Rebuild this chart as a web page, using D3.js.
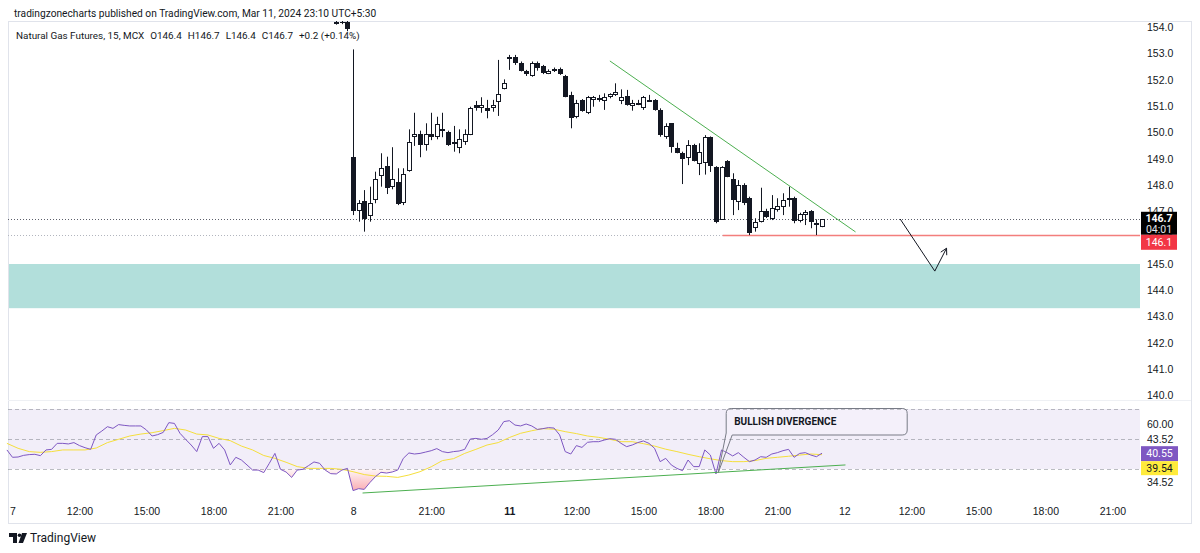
<!DOCTYPE html>
<html>
<head>
<meta charset="utf-8">
<script src="https://cdn.jsdelivr.net/npm/d3@7"></script>
<style>
  body { margin: 0; background: #fff; }
  svg { display: block; font-family: Roboto, "Noto Sans", sans-serif; }
</style>
</head>
<body>
<div id="chart"></div>
<script>
let width = 1200,
    height = 553,
    box = ({ left: 8, right: 1191, top: 21, bottom: 523 }),
    plotRight = 1140,
    priceBottom = 400,
    rsiTop = 401,
    rsiBottom = 500,
    axisFont = 10.5;

// ---- data ----
const headerText = "tradingzonecharts published on TradingView.com, Mar 11, 2024 23:10 UTC+5:30";
const legendParts = ["Natural Gas Futures, 15, MCX", "O146.4", "H146.7", "L146.4", "C146.7", "+0.2 (+0.14%)"];

// 15 min bars, index 0 = first bar of the 7th
const timeTicks = [0, 12, 24, 36, 48, 61, 75, 89, 101, 113, 125, 137, 149, 161, 173, 185, 197];
const timeLabels = ["7", "12:00", "15:00", "18:00", "21:00", "8", "21:00", "11", "12:00", "15:00", "18:00", "21:00", "12", "12:00", "15:00", "18:00", "21:00"];
const boldLabels = ["11"];

const priceTicks = [140, 141, 142, 143, 144, 145, 146, 147, 148, 149, 150, 151, 152, 153, 154];

const barStart = 58;
const opens = [
  154.18, 154.22, 154.20, 149.06, 146.99, 147.41, 146.80, 147.41, 148.32, 148.73,
  147.91, 148.13, 147.31, 148.51, 149.82, 149.93, 149.51, 149.93, 149.82, 150.10,
  150.03, 149.60, 149.40, 149.61, 149.93, 151.03, 150.92, 150.94, 150.92, 151.13,
  151.64, 152.86, 152.86, 152.66, 152.35, 152.15, 152.66, 152.53, 152.25, 152.34,
  152.43, 152.15, 151.43, 150.60, 151.24, 150.73, 151.24, 151.29, 151.20, 151.34,
  151.45, 151.20, 151.39, 151.04, 151.12, 150.92, 151.22, 151.24, 150.86, 149.82,
  150.35, 149.42, 149.23, 149.02, 149.53, 148.83, 148.83, 149.82, 148.70, 146.70,
  148.93, 148.22, 147.37, 148.00, 147.50, 146.39, 146.61, 147.03, 146.70, 147.05,
  147.18, 147.41, 147.50, 146.61, 146.86, 147.03, 146.52, 146.40
];
const highs = [
  154.30, 154.30, 154.30, 153.16, 147.43, 147.81, 147.94, 148.51, 149.21, 149.08,
  149.44, 148.64, 148.64, 150.12, 150.75, 150.07, 150.35, 150.75, 150.60, 150.75,
  150.07, 150.25, 150.12, 150.12, 150.98, 151.20, 151.34, 151.24, 151.24, 152.76,
  152.02, 152.95, 152.95, 152.70, 152.38, 152.70, 152.70, 152.57, 152.40, 152.47,
  152.47, 152.19, 151.55, 151.24, 151.27, 151.39, 151.39, 151.43, 151.49, 151.49,
  151.87, 151.64, 151.62, 151.24, 151.24, 151.39, 151.43, 151.27, 150.92, 150.35,
  150.35, 149.61, 149.27, 149.71, 149.57, 149.59, 149.90, 149.85, 148.72, 148.72,
  148.95, 148.45, 148.19, 148.07, 147.56, 146.74, 147.90, 147.10, 147.62, 147.50,
  147.69, 147.94, 147.56, 146.95, 147.05, 147.05, 146.70, 146.70
];
const lows = [
  154.10, 154.12, 153.85, 146.86, 146.61, 146.23, 146.61, 147.31, 147.94, 147.66,
  147.84, 147.24, 147.24, 148.51, 149.49, 149.06, 149.31, 149.71, 149.74, 149.82,
  149.49, 149.27, 149.21, 149.53, 149.90, 150.83, 150.75, 150.54, 150.79, 150.63,
  151.64, 152.38, 152.57, 152.32, 152.15, 152.12, 152.35, 152.22, 152.22, 152.30,
  152.19, 151.34, 150.16, 150.54, 150.79, 150.70, 150.98, 151.17, 150.86, 151.30,
  151.39, 151.08, 151.02, 150.83, 151.04, 150.86, 151.17, 150.83, 149.84, 149.76,
  149.23, 149.21, 148.04, 148.76, 148.90, 148.38, 148.40, 148.50, 146.55, 146.68,
  148.30, 146.86, 147.05, 147.24, 146.10, 146.23, 146.58, 146.75, 146.67, 146.99,
  146.86, 147.18, 146.55, 146.58, 146.48, 146.36, 146.10, 146.40
];
const closes = [
  154.22, 154.18, 153.92, 146.99, 147.31, 146.71, 147.31, 148.22, 148.64, 147.91,
  148.22, 147.31, 148.42, 149.63, 149.93, 149.51, 149.93, 149.82, 150.32, 150.12,
  149.52, 149.62, 149.74, 149.93, 150.94, 150.92, 151.03, 150.83, 151.03, 151.45,
  151.87, 152.88, 152.63, 152.35, 152.22, 152.66, 152.48, 152.25, 152.35, 152.43,
  152.25, 151.34, 150.54, 151.13, 150.83, 151.34, 151.34, 151.31, 151.34, 151.45,
  151.55, 151.34, 151.05, 151.14, 151.14, 151.34, 151.24, 150.86, 149.90, 150.25,
  149.42, 149.23, 149.02, 149.53, 148.93, 149.27, 149.82, 148.70, 146.61, 148.70,
  148.32, 147.43, 148.00, 147.30, 146.17, 146.61, 147.03, 146.80, 147.12, 147.21,
  147.43, 147.50, 146.61, 146.89, 146.99, 146.61, 146.55, 146.70
];

const rsiStart = -1;
const rsiValues = [
  42.7,
  37.8, 38.0, 39.1, 39.6, 39.8, 38.9, 42.7, 43.1, 47.1, 47.1,   // 0-9
  46.7, 47.6, 45.6, 44.2, 43.1, 52.7, 55.3, 58.2, 57.1, 59.6,   // 10-19
  59.1, 58.7, 58.7, 58.7, 56.0, 52.0, 52.9, 54.4, 60.9, 60.4,   // 20-29
  53.8, 49.8, 46.0, 41.6, 51.6, 51.6, 43.8, 47.1, 42.7, 32.7,   // 30-39
  37.8, 36.0, 32.7, 29.3, 29.3, 27.6, 33.8, 40.4, 29.8, 28.0,   // 40-49
  24.4, 29.3, 29.8, 32.2, 34.7, 33.8, 29.3, 26.9, 26.7, 29.3,   // 50-59
  30.4, 15.6, 16.9, 16.4, 20.9, 24.9, 27.8, 27.3, 28.0, 29.3,   // 60-69
  37.1, 40.7, 40.0, 40.4, 41.3, 42.2, 43.6, 41.6, 40.9, 41.6,   // 70-79
  42.0, 43.1, 50.0, 50.4, 49.8, 50.4, 52.9, 56.0, 61.6, 62.2,   // 80-89
  59.3, 58.7, 60.0, 58.7, 56.4, 56.9, 57.6, 57.3, 52.7, 41.6,   // 90-99
  40.0, 45.6, 44.4, 47.8, 48.2, 48.2, 49.3, 50.2, 49.8, 47.1,   // 100-109
  44.9, 46.0, 47.6, 48.7, 47.1, 43.8, 34.9, 37.1, 32.7, 30.4,   // 110-119
  28.9, 36.0, 31.6, 31.6, 42.7, 39.3, 26.7, 42.7, 40.9, 38.7,   // 120-129
  40.9, 37.8, 34.9, 36.0, 38.2, 37.8, 40.0, 40.9, 42.2, 43.1,   // 130-139
  37.8, 40.4, 40.9, 39.3, 38.2, 40.55                          // 140-145
];

// RSI based MA, read every second bar from -1
const maValues = [
  47.1, 43.8, 41.6, 41.1, 41.6, 42.7, 42.7, 42.7, 44.0, 47.6,
  49.8, 52.0, 53.3, 54.2, 55.6, 57.1, 56.0, 53.3, 52.7, 50.4,
  48.9, 45.3, 42.7, 39.0, 37.1, 34.5, 31.6, 30.4, 30.4, 30.4,
  29.8, 28.2, 26.3, 25.3, 25.1, 24.4, 26.0, 28.2, 31.5, 35.6,
  36.9, 40.4, 43.1, 46.0, 47.6, 51.0, 53.8, 55.5, 56.9, 56.5,
  54.9, 53.6, 52.0, 51.1, 49.8, 48.2, 48.2, 46.9, 45.3, 43.2,
  41.6, 39.8, 38.2, 36.8, 35.6, 34.9, 34.9, 35.6, 37.1, 37.8,
  38.5, 39.3, 40.0, 39.54
];

const rsiLevels = [70, 50, 30];
const rsiTickAt = [60, 50, 21.3];
const rsiTickLabels = ["60.00", "43.52", "34.52"];

// drawings
const supportZone = [143.32, 145.0];
const trendLine = [[107, 152.72], [151, 146.22]];
const rsiDivLine = [[62.7, 14], [149.2, 32.7]];
const arrowPts = [[159, 146.71], [165.2, 144.73], [167.3, 145.6]];
const redLevel = { from: 127.2, price: 146.1 };
const lastPrice = 146.7;
const countdown = "04:01";
const callout = { i: 126.4, v: 27.5, text: "BULLISH DIVERGENCE" };

// ---- scales ----
const x = d3.scaleLinear()
  .domain([0, 197])
  .range([12.5, 12.5 + 197 * 5.583]);

const y = d3.scaleLinear()
  .domain([140, 154])
  .range([395.5, 27.3]);

const yR = d3.scaleLinear()
  .domain([30, 70])
  .range([469, 409]);

const svg = d3.select("#chart")
  .append("svg")
  .attr("width", width)
  .attr("height", height);

const defs = svg.append("defs");
defs.append("clipPath").attr("id", "price-clip")
  .append("rect")
  .attr("x", box.left).attr("y", box.top)
  .attr("width", plotRight - box.left).attr("height", priceBottom - box.top);
defs.append("clipPath").attr("id", "axis-clip")
  .append("rect")
  .attr("x", plotRight).attr("y", box.top)
  .attr("width", box.right - plotRight).attr("height", priceBottom - box.top);
defs.append("clipPath").attr("id", "oversold-clip")
  .append("rect")
  .attr("x", box.left).attr("y", yR(30))
  .attr("width", plotRight - box.left).attr("height", rsiBottom - yR(30));

let grad = defs.append("linearGradient")
  .attr("id", "oversold-grad")
  .attr("gradientUnits", "userSpaceOnUse")
  .attr("x1", 0).attr("x2", 0)
  .attr("y1", yR(30)).attr("y2", yR(10));
grad.append("stop").attr("offset", 0).attr("stop-color", "#f23645").attr("stop-opacity", 0.04);
grad.append("stop").attr("offset", 1).attr("stop-color", "#f23645").attr("stop-opacity", 0.55);

// header above the chart box
svg.append("text")
  .attr("x", 14).attr("y", 17)
  .attr("font-size", 10.2)
  .attr("fill", "#131722")
  .text(headerText);

svg.append("rect")
  .attr("x", box.left + 0.5).attr("y", box.top + 0.5)
  .attr("width", box.right - box.left).attr("height", box.bottom - box.top)
  .attr("fill", "none")
  .attr("stroke", "#e0e3eb");

// ---- price pane ----
const price = svg.append("g").attr("clip-path", "url(#price-clip)");

price.append("rect")
  .attr("x", box.left + 1)
  .attr("y", y(supportZone[1]))
  .attr("width", plotRight - box.left - 1)
  .attr("height", y(supportZone[0]) - y(supportZone[1]))
  .attr("fill", "#b2dfdb");

let redY = Math.round(y(redLevel.price)) + 0.5;
price.append("line")
  .attr("x1", box.left).attr("x2", x(redLevel.from))
  .attr("y1", redY).attr("y2", redY)
  .attr("stroke", "#b2b5be")
  .attr("stroke-dasharray", "1,2");

// horizontal ray at 146.1
price.append("line")
  .attr("x1", x(redLevel.from)).attr("x2", plotRight)
  .attr("y1", redY).attr("y2", redY)
  .attr("stroke", "#ef5350")
  .attr("stroke-width", 1.4)
  .attr("stroke-opacity", 0.75);

price.append("line")
  .attr("x1", box.left).attr("x2", plotRight)
  .attr("y1", Math.round(y(lastPrice)) + 0.5).attr("y2", Math.round(y(lastPrice)) + 0.5)
  .attr("stroke", "#5d606b")
  .attr("stroke-dasharray", "1,2");

let candles = opens.map((o, k) => ({ i: barStart + k, o: o, h: highs[k], l: lows[k], c: closes[k] }));

let cg = price.selectAll(".candle")
  .data(candles)
  .join("g")
  .attr("class", "candle");

cg.append("line")
  .attr("x1", d => Math.round(x(d.i)) + 0.5)
  .attr("x2", d => Math.round(x(d.i)) + 0.5)
  .attr("y1", d => y(d.h))
  .attr("y2", d => y(d.l))
  .attr("stroke", "#131722");

cg.append("rect")
  .attr("x", d => d.c >= d.o ? Math.round(x(d.i)) - 1.5 : Math.round(x(d.i)) - 2)
  .attr("width", d => d.c >= d.o ? 4 : 5)
  .attr("y", d => {
    let top = y(Math.max(d.o, d.c));
    return d.c >= d.o ? Math.round(top) + 0.5 : Math.round(top);
  })
  .attr("height", d => {
    let hgt = Math.max(1, Math.round(y(Math.min(d.o, d.c)) - y(Math.max(d.o, d.c))));
    return d.c >= d.o ? Math.max(1, hgt - 1) : hgt;
  })
  .attr("fill", d => d.c >= d.o ? "#ffffff" : "#131722")
  .attr("stroke", d => d.c >= d.o ? "#131722" : "none");

price.append("line")
  .attr("x1", x(trendLine[0][0])).attr("y1", y(trendLine[0][1]))
  .attr("x2", x(trendLine[1][0])).attr("y2", y(trendLine[1][1]))
  .attr("stroke", "#4caf50");

// the expected move: down into the zone, then up
let arrowLine = d3.line().x(d => x(d[0])).y(d => y(d[1]));
price.append("path")
  .attr("d", arrowLine(arrowPts))
  .attr("fill", "none")
  .attr("stroke", "#131722");

let tip = arrowPts[2], prev = arrowPts[1];
let ang = Math.atan2(y(tip[1]) - y(prev[1]), x(tip[0]) - x(prev[0]));
let tx = x(tip[0]), ty = y(tip[1]);
price.append("path")
  .attr("d", `M${tx - 7 * Math.cos(ang - 0.5)},${ty - 7 * Math.sin(ang - 0.5)}L${tx},${ty}L${tx - 7 * Math.cos(ang + 0.5)},${ty - 7 * Math.sin(ang + 0.5)}`)
  .attr("fill", "none")
  .attr("stroke", "#131722");

// legend sits on top of the candles, items with a small gap
let legend = svg.append("text")
  .attr("x", 16).attr("y", 39)
  .attr("font-size", 9.9)
  .attr("fill", "#131722");
legendParts.forEach((t, k) => {
  legend.append("tspan")
    .attr("dx", k === 0 ? 0 : 6)
    .text(t);
});

// price axis
svg.append("g")
  .attr("clip-path", "url(#axis-clip)")
  .append("g")
  .attr("transform", `translate(${plotRight},0)`)
  .call(d3.axisRight(y).tickValues(priceTicks).tickSize(0).tickPadding(7).tickFormat(d3.format(".1f")))
  .call(g => g.select(".domain").remove())
  .call(g => g.selectAll("text").attr("fill", "#131722").attr("font-size", axisFont).attr("font-family", null));

let badge = svg.append("g");
badge.append("rect")
  .attr("x", plotRight + 1).attr("y", y(lastPrice) - 7.5)
  .attr("width", 36).attr("height", 23)
  .attr("fill", "#000");
badge.append("text")
  .attr("x", plotRight + 19).attr("y", y(lastPrice) + 3)
  .attr("text-anchor", "middle").attr("font-size", axisFont).attr("font-weight", 700)
  .attr("fill", "#fff")
  .text(d3.format(".1f")(lastPrice));
badge.append("text")
  .attr("x", plotRight + 19).attr("y", y(lastPrice) + 13.5)
  .attr("text-anchor", "middle").attr("font-size", axisFont)
  .attr("fill", "#e0e3eb")
  .text(countdown);
badge.append("rect")
  .attr("x", plotRight + 1).attr("y", y(lastPrice) + 15.5)
  .attr("width", 36).attr("height", 15)
  .attr("fill", "#f23645");
badge.append("text")
  .attr("x", plotRight + 19).attr("y", y(lastPrice) + 26.5)
  .attr("text-anchor", "middle").attr("font-size", axisFont)
  .attr("fill", "#fff")
  .text(d3.format(".1f")(redLevel.price));

svg.append("line")
  .attr("x1", box.left).attr("x2", box.right)
  .attr("y1", priceBottom + 0.5).attr("y2", priceBottom + 0.5)
  .attr("stroke", "#eef0f4");

// ---- RSI pane ----
const rsi = svg.append("g");

rsi.append("rect")
  .attr("x", box.left + 1).attr("y", yR(70))
  .attr("width", plotRight - box.left - 1).attr("height", yR(30) - yR(70))
  .attr("fill", "#7e57c2").attr("fill-opacity", 0.1);

rsi.selectAll(".level")
  .data(rsiLevels)
  .join("line")
  .attr("class", "level")
  .attr("x1", box.left).attr("x2", plotRight)
  .attr("y1", d => Math.round(yR(d)) + 0.5).attr("y2", d => Math.round(yR(d)) + 0.5)
  .attr("stroke", "#787b86").attr("stroke-opacity", 0.5)
  .attr("stroke-dasharray", "4,3");

let rsiData = rsiValues.map((v, k) => ({ i: rsiStart + k, v: v }));
let maData = maValues.map((v, k) => ({ i: -1 + 2 * k, v: v }));

rsi.append("path")
  .datum(rsiData)
  .attr("clip-path", "url(#oversold-clip)")
  .attr("fill", "url(#oversold-grad)")
  .attr("d", d3.area().x(d => x(d.i)).y0(yR(30)).y1(d => yR(d.v)));

rsi.append("path")
  .datum(maData)
  .attr("fill", "none")
  .attr("stroke", "#f5df3c")
  .attr("d", d3.line().x(d => x(d.i)).y(d => yR(d.v)));

rsi.append("path")
  .datum(rsiData)
  .attr("fill", "none")
  .attr("stroke", "#7e57c2")
  .attr("d", d3.line().x(d => x(d.i)).y(d => yR(d.v)));

rsi.append("line")
  .attr("x1", x(rsiDivLine[0][0])).attr("y1", yR(rsiDivLine[0][1]))
  .attr("x2", x(rsiDivLine[1][0])).attr("y2", yR(rsiDivLine[1][1]))
  .attr("stroke", "#4caf50");

// callout box with a tail pointing at the RSI low
let cx0 = x(callout.i), cy0 = yR(callout.v);
let bx1 = cx0 + 8, bx2 = cx0 + 189, by1 = yR(70) - 0.5, by2 = 435, r = 5;
rsi.append("path")
  .attr("d", `M${bx1 + r},${by1}H${bx2 - r}Q${bx2},${by1} ${bx2},${by1 + r}V${by2 - r}Q${bx2},${by2} ${bx2 - r},${by2}` +
    `H${bx1 + 6}L${cx0},${cy0}L${bx1},${by2 - 2}V${by1 + r}Q${bx1},${by1} ${bx1 + r},${by1}Z`)
  .attr("fill", "#ffffff").attr("fill-opacity", 0.15)
  .attr("stroke", "#787b86");
rsi.append("text")
  .attr("x", bx1 + 8).attr("y", 425)
  .attr("font-size", 10).attr("font-weight", 700)
  .attr("fill", "#131722")
  .text(callout.text);

svg.append("g")
  .attr("transform", `translate(${plotRight},0)`)
  .call(d3.axisRight(yR).tickValues(rsiTickAt).tickSize(0).tickPadding(7).tickFormat((d, k) => rsiTickLabels[k]))
  .call(g => g.select(".domain").remove())
  .call(g => g.selectAll("text").attr("fill", "#131722").attr("font-size", axisFont).attr("font-family", null));

let lastRsi = rsiValues[rsiValues.length - 1],
    lastMa = maValues[maValues.length - 1];
svg.append("rect")
  .attr("x", plotRight + 1).attr("y", yR(lastRsi) - 7)
  .attr("width", 37).attr("height", 15)
  .attr("fill", "#7e57c2");
svg.append("text")
  .attr("x", plotRight + 19.5).attr("y", yR(lastRsi) + 4)
  .attr("text-anchor", "middle").attr("font-size", axisFont)
  .attr("fill", "#fff")
  .text(d3.format(".2f")(lastRsi));
svg.append("rect")
  .attr("x", plotRight + 1).attr("y", yR(lastRsi) + 8)
  .attr("width", 37).attr("height", 14)
  .attr("fill", "#ffeb3b");
svg.append("text")
  .attr("x", plotRight + 19.5).attr("y", yR(lastRsi) + 19)
  .attr("text-anchor", "middle").attr("font-size", axisFont)
  .attr("fill", "#131722")
  .text(d3.format(".2f")(lastMa));

// ---- time axis ----
svg.append("g")
  .attr("transform", `translate(0,${rsiBottom + 2})`)
  .call(d3.axisBottom(x).tickValues(timeTicks).tickSize(0).tickPadding(6).tickFormat((d, k) => timeLabels[k]))
  .call(g => g.select(".domain").remove())
  .call(g => g.selectAll("text")
    .attr("fill", "#131722").attr("font-size", axisFont).attr("font-family", null)
    .attr("font-weight", (d, k) => boldLabels.includes(timeLabels[k]) ? 700 : 400));

// ---- TradingView mark ----
let logo = svg.append("g").attr("fill", "#131722");
logo.append("path").attr("d", "M9,533H17V543H13V537H9Z");
logo.append("circle").attr("cx", 19.5).attr("cy", 535.2).attr("r", 1.8);
logo.append("path").attr("d", "M22,533H27L23,543H18.5Z");
svg.append("text")
  .attr("x", 30).attr("y", 542)
  .attr("font-size", 12)
  .attr("fill", "#131722")
  .text("TradingView");
</script>
</body>
</html>
